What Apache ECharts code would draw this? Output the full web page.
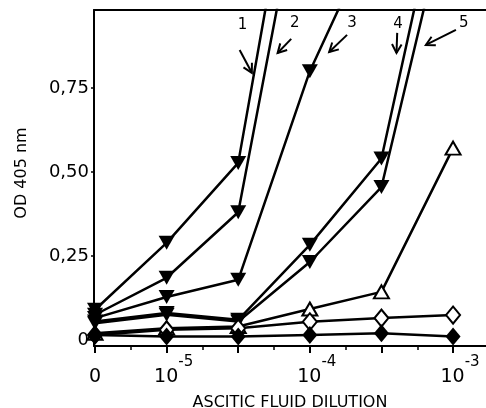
<!DOCTYPE html>
<html>
<head>
<meta charset="utf-8">
<script src="https://cdn.jsdelivr.net/npm/echarts@6/dist/echarts.min.js"></script>
<style>html,body{margin:0;padding:0;background:#fff}#c{width:486px;height:408px}</style>
</head>
<body>
<div id="c"></div>
<script>
// dilution positions (index) and labels
const xPositions = [0, 1, 2, 3, 4, 5];
const xLabelPositions = [0, 1, 3, 5];
const xLabels = {0: '0', 1: '10|-5', 3: '10|-4', 5: '10|-3'};
const yTicks = [0, 0.25, 0.5, 0.75];

// filled inverted triangles, curves 1..5 (values past the top run off the chart)
const curve1 = [0.09, 0.289, 0.527, 1.73];
const curve2 = [0.075, 0.185, 0.38, 1.5];
const curve3 = [0.065, 0.128, 0.179, 0.80, 1.26];
const curve4 = [0.055, 0.08, 0.06, 0.283, 0.54, 1.51];
const curve5 = [0.05, 0.075, 0.055, 0.232, 0.455, 1.35];
// open triangles, open diamonds, filled diamonds
const openTri = [0.02, 0.035, 0.04, 0.092, 0.143, 0.571];
const openDia = [0.015, 0.03, 0.035, 0.054, 0.065, 0.074];
const fillDia = [0.015, 0.01, 0.01, 0.015, 0.02, 0.01];

// curve number annotations: label point, arrow tail, arrow head (data coords)
const annLabels = ['1', '2', '3', '4', '5'];
const annLabelPos = [[2.06, 0.937], [2.79, 0.943], [3.59, 0.943], [4.23, 0.94], [5.15, 0.943]];
const annTail = [[2.02, 0.863], [2.74, 0.896], [3.52, 0.908], [4.22, 0.914], [5.04, 0.923]];
const annHead = [[2.19, 0.795], [2.55, 0.854], [3.27, 0.857], [4.21, 0.854], [4.62, 0.878]];

const FONT = 'DejaVu Sans';
const pair = arr => arr.map((v, i) => [xPositions[i], v]);

function lineSeries(data, symbol, fill, size, rotate) {
  return {
    type: 'line', data: pair(data), symbol: symbol, symbolSize: size,
    symbolRotate: rotate || 0, clip: true,
    lineStyle: {color: '#000', width: 2.5},
    itemStyle: {color: fill, borderColor: '#000', borderWidth: fill === '#fff' ? 2 : 0},
    emphasis: {disabled: true}, z: 2
  };
}

const chart = echarts.init(document.getElementById('c'), null, {renderer: 'canvas'});
chart.setOption({
  animation: false,
  grid: {left: 94, right: 0, top: 10, bottom: 62, outerBoundsMode: 'none', containLabel: false},
  xAxis: [{
    type: 'value', min: -0.014, max: 5.46, position: 'bottom',
    name: 'ASCITIC FLUID DILUTION', nameLocation: 'middle', nameGap: 49,
    nameTextStyle: {fontFamily: FONT, fontSize: 16, color: '#000'},
    axisLine: {onZero: false, lineStyle: {color: '#000', width: 2}},
    axisTick: {customValues: xPositions, length: 7, lineStyle: {color: '#000', width: 2}},
    axisLabel: {
      customValues: xLabelPositions, margin: 9,
      formatter: v => {
        const s = xLabels[v];
        if (!s) return '';
        if (s.indexOf('|') < 0) return '{a|' + s + '}';
        const p = s.split('|');
        return '{sp| }{a|' + p[0] + '}{b|' + p[1] + '}';
      },
      rich: {
        a: {fontFamily: FONT, fontSize: 19, color: '#000', lineHeight: 32, verticalAlign: 'bottom'},
        b: {fontFamily: FONT, fontSize: 15, color: '#000', lineHeight: 32, verticalAlign: 'top'},
        sp: {width: 14, lineHeight: 32}
      }
    },
    splitLine: {show: false}
  }, {
    type: 'value', min: -0.014, max: 5.46, position: 'bottom',
    axisLine: {show: false, onZero: false},
    axisTick: {customValues: [0.5, 1.5, 2.5, 3.5, 4.5], length: 4, lineStyle: {color: '#000', width: 1.5}},
    axisLabel: {show: false}, splitLine: {show: false}
  }, {
    type: 'value', min: -0.014, max: 5.46, position: 'top',
    axisLine: {onZero: false, lineStyle: {color: '#000', width: 2}},
    axisTick: {show: false}, axisLabel: {show: false}, splitLine: {show: false}
  }],
  yAxis: {
    type: 'value', min: -0.018, max: 0.982,
    name: 'OD 405 nm', nameLocation: 'middle', nameGap: 64,
    nameTextStyle: {fontFamily: FONT, fontSize: 16, color: '#000', padding: [0, 0, 0, 10]},
    axisLine: {onZero: false, lineStyle: {color: '#000', width: 2}},
    axisTick: {customValues: yTicks, length: 3, lineStyle: {color: '#000', width: 1.5}},
    axisLabel: {
      customValues: yTicks, margin: 5,
      fontFamily: FONT, fontSize: 18, color: '#000',
      formatter: v => v === 0 ? '0' : v.toFixed(2).replace('.', ',')
    },
    splitLine: {show: false}
  },
  series: [
    lineSeries(curve1, 'triangle', '#000', [16, 14], 180),
    lineSeries(curve2, 'triangle', '#000', [16, 14], 180),
    lineSeries(curve3, 'triangle', '#000', [16, 14], 180),
    lineSeries(curve4, 'triangle', '#000', [16, 14], 180),
    lineSeries(curve5, 'triangle', '#000', [16, 14], 180),
    lineSeries(openTri, 'triangle', '#fff', [15, 13]),
    lineSeries(openDia, 'diamond', '#fff', [14, 17]),
    lineSeries(fillDia, 'diamond', '#000', [15, 18])
  ]
});

// annotations: curve numbers with open arrows
const els = [];
for (let i = 0; i < annLabels.length; i++) {
  const lp = chart.convertToPixel({xAxisIndex: 0, yAxisIndex: 0}, annLabelPos[i]);
  const t = chart.convertToPixel({xAxisIndex: 0, yAxisIndex: 0}, annTail[i]);
  const h = chart.convertToPixel({xAxisIndex: 0, yAxisIndex: 0}, annHead[i]);
  els.push({type: 'text', x: lp[0], y: lp[1], style: {text: annLabels[i], fontFamily: FONT, fontSize: 15, fill: '#000', align: 'center', verticalAlign: 'middle'}});
  els.push({type: 'line', shape: {x1: t[0], y1: t[1], x2: h[0], y2: h[1]}, style: {stroke: '#000', lineWidth: 2}});
  const ang = Math.atan2(h[1] - t[1], h[0] - t[0]);
  const L = 10, A = 0.5;
  const b1 = [h[0] - L * Math.cos(ang - A), h[1] - L * Math.sin(ang - A)];
  const b2 = [h[0] - L * Math.cos(ang + A), h[1] - L * Math.sin(ang + A)];
  els.push({type: 'polyline', shape: {points: [b1, h, b2]}, style: {stroke: '#000', lineWidth: 2, fill: null}});
}
chart.setOption({graphic: els});
</script>
</body>
</html>
